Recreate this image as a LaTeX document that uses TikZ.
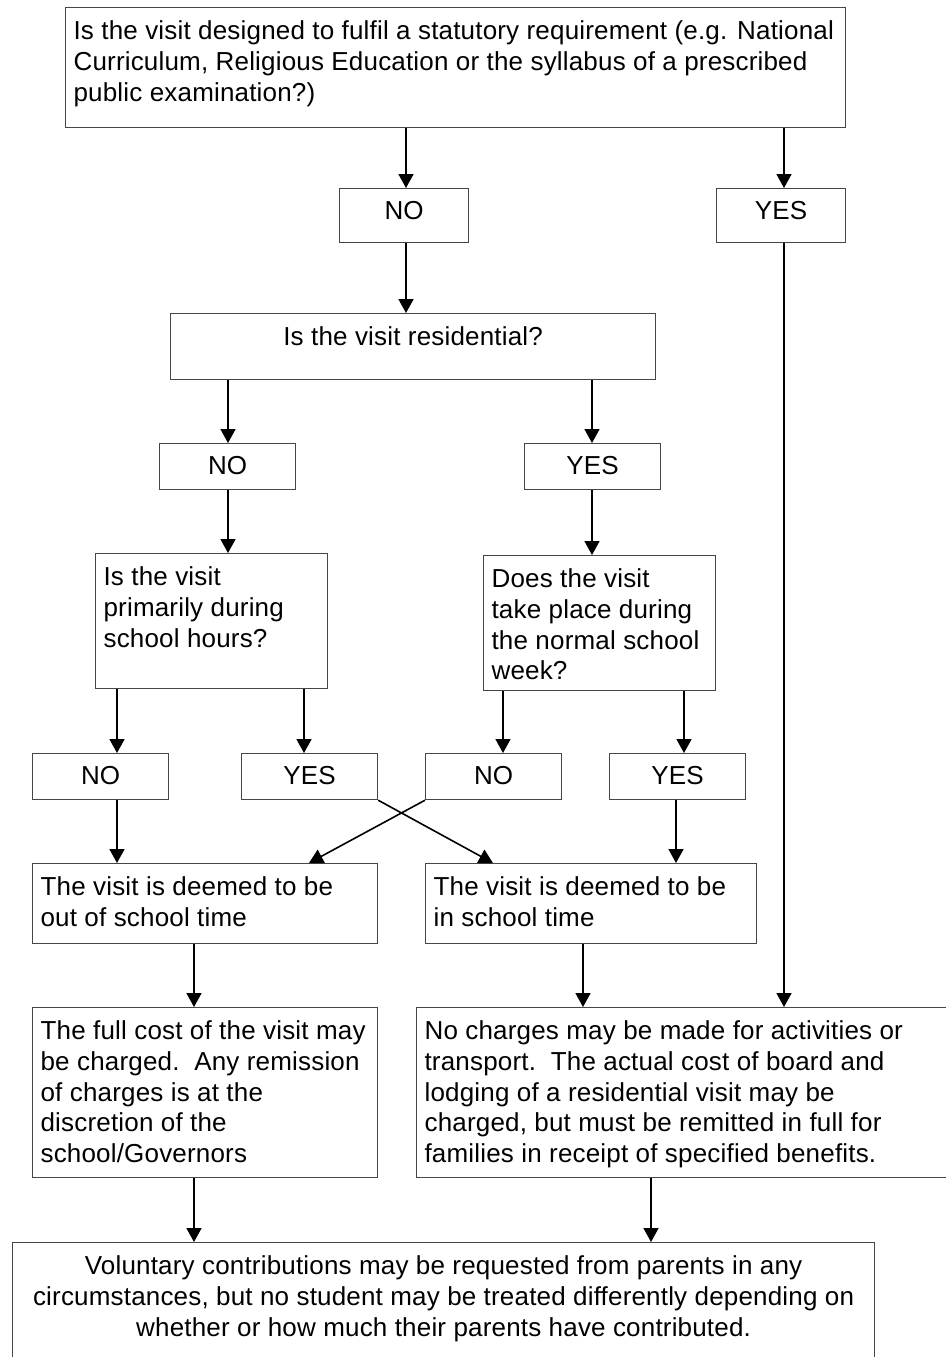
\documentclass[tikz,border=0pt]{standalone}
\usepackage{fontspec}
\setmainfont{Liberation Sans}[LetterSpace=0.7]
\usetikzlibrary{arrows.meta}
\definecolor{edgegray}{RGB}{70,70,70}
\tikzset{box/.style={draw=edgegray, line width=0.6pt, anchor=north west,
  inner xsep=4pt, inner ysep=6.5pt, font=\fontsize{13}{15.4}\selectfont}}
\tikzset{arr/.style={line width=0.8pt, -{Triangle[length=7pt,width=7.5pt]}}}
% text of a box of outer size #1 x #2, kept at the top
\newcommand{\inbox}[3]{\parbox[t][\dimexpr#2-13pt\relax][t]{\dimexpr#1-8pt\relax}{#3}}

\begin{document}
\begin{tikzpicture}[x=0.5pt, y=-0.5pt]
\useasboundingbox (0,0) rectangle (946,1357);
\clip (0,0) rectangle (946,1357);

\node[box] (visit) at (65,7) {\inbox{390pt}{60pt}{Is the visit designed to fulfil a statutory requirement (e.g. National\\
Curriculum, Religious Education or the syllabus of a prescribed\\
public examination?)}};
\node[box] (no1) at (339,188) {\inbox{64.5pt}{27pt}{\centering NO}};
\node[box] (yes1) at (716,188) {\inbox{64.5pt}{27pt}{\centering YES}};

\node[box] (resid) at (170,313) {\inbox{242.5pt}{33pt}{\centering Is the visit residential?}};
\node[box] (no2) at (159,443) {\inbox{68pt}{23pt}{\centering NO}};
\node[box] (yes2) at (524,443) {\inbox{68pt}{23pt}{\centering YES}};

\node[box] (hours) at (95,553) {\inbox{116pt}{67.5pt}{Is the visit\\ primarily during\\ school hours?}};
\node[box] (week) at (483,555) {\inbox{116pt}{67.5pt}{Does the visit\\ take place during\\ the normal school\\ week?}};

\node[box] (no3) at (32,753) {\inbox{68pt}{23pt}{\centering NO}};
\node[box] (yes3) at (241,753) {\inbox{68pt}{23pt}{\centering YES}};
\node[box] (no4) at (425,753) {\inbox{68pt}{23pt}{\centering NO}};
\node[box] (yes4) at (609,753) {\inbox{68pt}{23pt}{\centering YES}};

\node[box] (outs) at (32,863) {\inbox{172.5pt}{40pt}{The visit is deemed to be\\ out of school time}};
\node[box] (ins) at (425,863) {\inbox{165.5pt}{40pt}{The visit is deemed to be\\ in school time}};

\node[box] (full) at (32,1007) {\inbox{172.5pt}{85pt}{The full cost of the visit may\\
be charged.\ \ Any remission\\ of charges is at the\\ discretion of the\\ school/Governors}};
\node[box] (nochg) at (416,1007) {\inbox{280pt}{85pt}{No charges may be made for activities or\\
transport.\ \ The actual cost of board and\\ lodging of a residential visit may be\\
charged, but must be remitted in full for\\ families in receipt of specified benefits.}};

\node[box] (volun) at (12,1242) {\inbox{431pt}{70pt}{\centering Voluntary contributions may be requested from parents in any\\
circumstances, but no student may be treated differently depending on\\
whether or how much their parents have contributed.}};

% first question
\draw[arr] (visit.south -| 406,0) -- (no1.north -| 406,0);
\draw[arr] (visit.south -| 784,0) -- (yes1.north -| 784,0);
\draw[arr] (no1.south -| 406,0) -- (resid.north -| 406,0);
\draw[arr] (yes1.south -| 784,0) -- (nochg.north -| 784,0);

% residential
\draw[arr] (resid.south -| 228,0) -- (no2.north -| 228,0);
\draw[arr] (resid.south -| 592,0) -- (yes2.north -| 592,0);
\draw[arr] (no2.south -| 228,0) -- (hours.north -| 228,0);
\draw[arr] (yes2.south -| 592,0) -- (week.north -| 592,0);

% school hours / school week
\draw[arr] (hours.south -| 117,0) -- (no3.north -| 117,0);
\draw[arr] (hours.south -| 304,0) -- (yes3.north -| 304,0);
\draw[arr] (week.south -| 503,0) -- (no4.north -| 503,0);
\draw[arr] (week.south -| 684,0) -- (yes4.north -| 684,0);

\draw[arr] (no3.south -| 117,0) -- (outs.north -| 117,0);
\draw[arr] (yes3.south east) -- (ins.north -| 493,0);
\draw[arr] (no4.south west) -- (outs.north -| 309,0);
\draw[arr] (yes4.south -| 676,0) -- (ins.north -| 676,0);

% charges
\draw[arr] (outs.south -| 194,0) -- (full.north -| 194,0);
\draw[arr] (ins.south -| 583,0) -- (nochg.north -| 583,0);
\draw[arr] (full.south -| 194,0) -- (volun.north -| 194,0);
\draw[arr] (nochg.south -| 651,0) -- (volun.north -| 651,0);

\end{tikzpicture}
\end{document}
